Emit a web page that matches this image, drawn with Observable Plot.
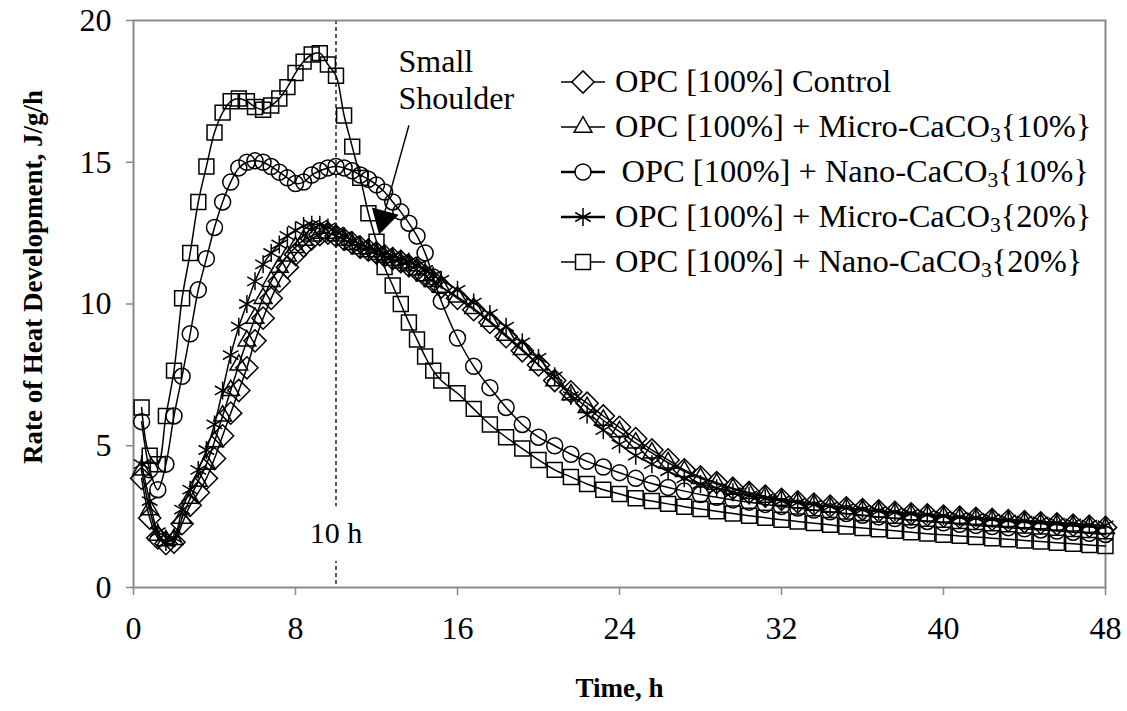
<!DOCTYPE html>
<html>
<head>
<meta charset="utf-8">
<script src="https://cdn.jsdelivr.net/npm/d3@7"></script>
<script src="https://cdn.jsdelivr.net/npm/@observablehq/plot@0.6"></script>
<style>
  body { margin: 0; background: #fff; }
  #chart { position: relative; width: 1127px; height: 711px; font-family: "Liberation Serif", "Times New Roman", serif; }
  #legend { position: absolute; left: 561px; top: 59px; font-size: 32.5px; color: #000; }
  #legend .row { display: flex; align-items: center; height: 45px; white-space: nowrap; }
  #legend svg { margin-right: 10px; overflow: visible; }
  #legend sub { font-size: 0.66em; vertical-align: -0.25em; line-height: 0; }
</style>
</head>
<body>
<div id="chart"></div>
<script>
// Hydration time (h)
const time = [0.4,0.8,1.2,1.6,2.0,2.4,2.8,3.2,3.6,4.0,4.4,4.8,5.2,5.6,6.0,6.4,6.8,7.2,7.6,8.0,
  8.4,8.8,9.2,9.6,10.0,10.4,10.8,11.2,11.6,12.0,12.4,12.8,13.2,13.6,14.0,14.4,14.8,15.2,
  16.0,16.8,17.6,18.4,19.2,20.0,20.8,21.6,22.4,23.2,24.0,24.8,25.6,26.4,27.2,28.0,28.8,29.6,
  30.4,31.2,32.0,32.8,33.6,34.4,35.2,36.0,36.8,37.6,38.4,39.2,40.0,40.8,41.6,42.4,43.2,44.0,
  44.8,45.6,46.4,47.2,48.0];

// Rate of heat development (J/g/h) for each mix
const opcControl = [3.85,2.45,1.75,1.55,1.6,2.25,2.9,3.35,3.85,4.55,5.35,6.15,6.95,7.75,8.7,9.5,10.2,10.8,11.3,11.75,
  12.05,12.3,12.45,12.5,12.4,12.28,12.15,12.0,11.9,11.8,11.7,11.6,11.5,11.35,11.2,11.0,10.8,10.6,
  10.2,9.8,9.35,8.85,8.35,7.85,7.3,6.9,6.5,6.05,5.65,5.25,4.85,4.5,4.15,3.9,3.7,3.5,
  3.35,3.22,3.11,3.02,2.94,2.87,2.81,2.75,2.7,2.65,2.6,2.56,2.52,2.48,2.44,2.4,2.36,2.32,
  2.28,2.24,2.2,2.16,2.12];

const micro10 = [4.15,2.75,1.85,1.65,1.7,2.45,3.15,3.75,4.35,5.15,6.05,6.95,7.85,8.7,9.5,10.2,10.8,11.3,11.7,12.0,
  12.25,12.4,12.5,12.5,12.4,12.25,12.1,11.95,11.85,11.75,11.65,11.55,11.45,11.35,11.2,11.0,10.8,10.6,
  10.25,9.85,9.4,8.9,8.4,7.85,7.3,6.8,6.35,5.9,5.5,5.1,4.75,4.4,4.1,3.85,3.65,3.47,
  3.32,3.19,3.08,2.99,2.91,2.84,2.78,2.72,2.67,2.62,2.57,2.53,2.49,2.45,2.41,2.37,2.33,2.29,
  2.25,2.21,2.17,2.13,2.09];

const nano10 = [5.85,4.15,3.45,4.35,6.05,7.45,8.95,10.5,11.6,12.7,13.6,14.3,14.8,15.0,15.05,15.0,14.85,14.65,14.45,14.25,
  14.3,14.55,14.7,14.8,14.85,14.8,14.7,14.55,14.4,14.2,13.95,13.6,13.25,12.85,12.4,11.8,10.95,10.1,
  8.8,7.8,7.05,6.35,5.75,5.3,5.0,4.7,4.45,4.25,4.05,3.85,3.67,3.53,3.4,3.28,3.18,3.09,
  3.01,2.93,2.86,2.8,2.73,2.67,2.61,2.55,2.49,2.43,2.38,2.33,2.28,2.23,2.19,2.15,2.11,2.07,
  2.03,1.99,1.95,1.91,1.87];

const micro20 = [4.35,3.05,1.95,1.6,1.75,2.75,3.45,4.15,4.85,5.75,6.95,8.2,9.2,10.0,10.8,11.4,11.8,12.1,12.4,12.6,
  12.75,12.8,12.8,12.7,12.55,12.4,12.25,12.1,12.0,11.9,11.8,11.7,11.6,11.5,11.35,11.2,11.0,10.85,
  10.5,10.05,9.65,9.2,8.65,8.1,7.45,6.75,6.1,5.55,5.05,4.65,4.35,4.1,3.85,3.65,3.5,3.36,
  3.24,3.14,3.06,2.99,2.92,2.86,2.8,2.75,2.7,2.65,2.61,2.57,2.53,2.49,2.46,2.43,2.39,2.36,
  2.33,2.29,2.26,2.22,2.19];

const nano20 = [6.35,4.65,4.35,6.05,7.65,10.2,11.8,13.6,14.85,16.05,16.75,17.15,17.25,17.15,16.95,16.85,17.0,17.25,17.65,18.15,
  18.55,18.8,18.85,18.45,18.05,16.65,15.55,14.45,13.2,12.2,11.3,10.65,10.0,9.35,8.75,8.15,7.65,7.3,
  6.85,6.3,5.75,5.3,4.9,4.5,4.15,3.9,3.65,3.45,3.3,3.15,3.05,2.95,2.85,2.77,2.69,2.61,
  2.53,2.46,2.39,2.33,2.27,2.21,2.15,2.1,2.05,2.0,1.95,1.9,1.86,1.82,1.78,1.74,1.7,1.66,
  1.62,1.58,1.54,1.5,1.46];

// Axis ticks
const xTicks = [0, 8, 16, 24, 32, 40, 48];
const yTicks = [0, 5, 10, 15, 20];

// Annotations
const markerTime = [10];
const markerLabel = ["10 h"];
const shoulderText = ["Small\nShoulder"];
const shoulderArrow = [{x1: 13.6, y1: 16.3, x2: 12.35, y2: 13.1}];
const shoulderHead = [{x: 12.33, y: 13.0}];

// Series styling (symbol, radius, legend line width) and legend labels
const series = [
  {name: "OPC [100%] Control", html: "OPC [100%] Control", values: opcControl, symbol: "diamond2", r: 10, legendWidth: 1.5},
  {name: "OPC [100%] + Micro-CaCO3{10%}", html: "OPC [100%] + Micro-CaCO<sub>3</sub>{10%}", values: micro10, symbol: "triangle2", r: 8.5, legendWidth: 1.5},
  {name: "OPC [100%] + Nano-CaCO3{10%}", html: "&thinsp;OPC [100%] + Nano-CaCO<sub>3</sub>{10%}", values: nano10, symbol: "circle", r: 8, legendWidth: 2.6},
  {name: "OPC [100%] + Micro-CaCO3{20%}", html: "OPC [100%] + Micro-CaCO<sub>3</sub>{20%}", values: micro20, symbol: "asterisk", r: 8.5, legendWidth: 2.6},
  {name: "OPC [100%] + Nano-CaCO3{20%}", html: "OPC [100%] + Nano-CaCO<sub>3</sub>{20%}", values: nano20, symbol: "square2", r: 9.5, legendWidth: 1.5}
];

const rows = s => time.map((t, i) => ({t, v: s.values[i], series: s.name}));

const seriesMarks = series.flatMap(s => [
  Plot.line(rows(s), {x: "t", y: "v", curve: "catmull-rom", stroke: "black", strokeWidth: 1.5}),
  Plot.dot(rows(s), {x: "t", y: "v", symbol: () => s.symbol, r: s.r, stroke: "black", strokeWidth: 1.5, fill: "none"})
]);

const gray = "#898989";

const chart = Plot.plot({
  width: 1127,
  height: 711,
  marginLeft: 133,
  marginRight: 22,
  marginTop: 20,
  marginBottom: 124,
  x: {domain: [0, 48]},
  y: {domain: [0, 20]},
  symbol: {type: "identity"},
  style: {fontFamily: "'Liberation Serif', 'Times New Roman', serif", fontSize: "32px", background: "white", color: "black"},
  marks: [
    Plot.ruleX(markerTime, {stroke: "black", strokeWidth: 1.3, strokeDasharray: "4,3"}),
    Plot.text(markerLabel, {x: () => markerTime[0], frameAnchor: "bottom", dy: -45, text: d => d, fontSize: 30, fill: "black", stroke: "white", strokeWidth: 36}),
    Plot.frame({stroke: gray, strokeWidth: 2}),
    Plot.axisX({ticks: xTicks, tickSize: 8, tickPadding: 21, stroke: gray, strokeWidth: 1.5, fill: "black", label: null, fontSize: 32}),
    Plot.axisY({ticks: yTicks, tickSize: 7, tickPadding: 15, stroke: gray, strokeWidth: 1.5, fill: "black", label: null, fontSize: 32}),
    Plot.text(["Time, h"], {frameAnchor: "bottom", dy: 109, text: d => d, fontWeight: "bold", fontSize: 27}),
    Plot.text(["Rate of Heat Development, J/g/h"], {frameAnchor: "left", dx: -100, dy: -27, rotate: -90, textAnchor: "middle", text: d => d, fontWeight: "bold", fontSize: 27}),
    ...seriesMarks,
    Plot.link(shoulderArrow, {x1: "x1", y1: "y1", x2: "x2", y2: "y2", stroke: "black", strokeWidth: 1.5}),
    Plot.dot(shoulderHead, {x: "x", y: "y", symbol: "triangle", r: 10.3, fill: "black", rotate: 195}),
    Plot.text(shoulderText, {frameAnchor: "top-left", dx: 265, dy: 58, text: d => d, textAnchor: "start", lineAnchor: "middle", lineHeight: 1.17, fontSize: 32})
  ]
});

const container = document.getElementById("chart");
container.appendChild(chart);

// Legend drawn in the upper right of the plot area
const legend = document.createElement("div");
legend.id = "legend";
for (const s of series) {
  const row = document.createElement("div");
  row.className = "row";
  const size = Math.PI * s.r * s.r;
  const symbolType = {diamond2: d3.symbolDiamond2, triangle2: d3.symbolTriangle2, circle: d3.symbolCircle, asterisk: d3.symbolAsterisk, square2: d3.symbolSquare2}[s.symbol];
  const path = d3.symbol(symbolType, size)();
  row.innerHTML = `<svg width="44" height="30" viewBox="0 0 44 30">
      <line x1="0" x2="44" y1="15" y2="15" stroke="black" stroke-width="${s.legendWidth}"/>
      <path d="${path}" transform="translate(22,15)" fill="white" stroke="black" stroke-width="1.5"/>
    </svg><span>${s.html}</span>`;
  legend.appendChild(row);
}
container.appendChild(legend);
</script>
</body>
</html>
